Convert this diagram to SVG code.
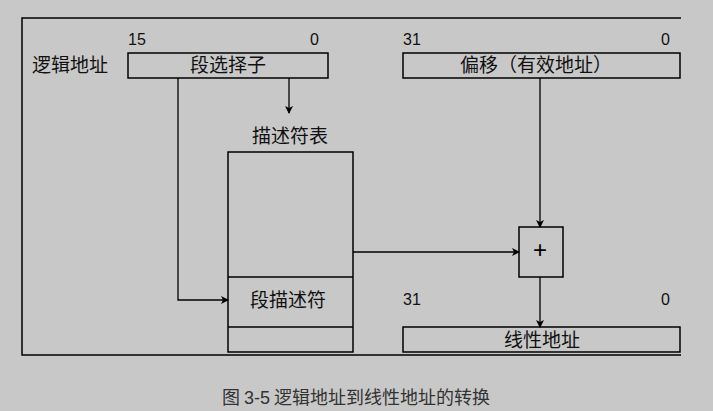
<svg xmlns="http://www.w3.org/2000/svg" width="713" height="411" viewBox="0 0 713 411">
<defs><marker id="a" markerWidth="8" markerHeight="8" refX="7" refY="4" orient="auto" markerUnits="userSpaceOnUse"><path d="M0,0 L8,4 L0,8 L2,4 z" fill="#000"/></marker>
<style>.b{fill:none;stroke:#000;stroke-width:1.5}.t{font-family:"Noto Sans CJK SC",sans-serif;font-size:19px;fill:#111}.n{font-family:"Liberation Sans",sans-serif;font-size:16px;fill:#111}.c{stroke:#000;stroke-width:1.3;fill:none;marker-end:url(#a)}</style></defs>
<rect width="713" height="411" fill="#c8c8c8"/>
<path d="M681,18 H22 V355 H681" class="b"/>
<g id="selector"><rect x="128" y="53" width="200" height="25" class="b"/><text x="228" y="72" text-anchor="middle" class="t">段选择子</text><text x="128" y="45" class="n">15</text><text x="310" y="45" class="n">0</text><text x="32" y="72" class="t">逻辑地址</text></g>
<g id="offset"><rect x="403" y="53" width="277" height="25" class="b"/><text x="536" y="72" text-anchor="middle" class="t">偏移（有效地址）</text><text x="403" y="45" class="n">31</text><text x="661" y="45" class="n">0</text></g>
<g id="table"><text x="290" y="143" text-anchor="middle" class="t">描述符表</text><rect x="228" y="152" width="125" height="200" class="b"/><line x1="228" y1="277" x2="353" y2="277" class="b"/><line x1="228" y1="327" x2="353" y2="327" class="b"/><text x="288" y="307" text-anchor="middle" class="t">段描述符</text></g>
<g id="plus"><rect x="519" y="227" width="44" height="50" class="b"/><text x="540" y="258" text-anchor="middle" style="font-family:'Liberation Sans',sans-serif;font-size:24px">+</text></g>
<g id="linear"><rect x="403" y="327" width="277" height="25" class="b"/><text x="542" y="347" text-anchor="middle" class="t">线性地址</text><text x="403" y="305" class="n">31</text><text x="661" y="305" class="n">0</text></g>
<g id="connectors">
<path d="M289,78 V113" class="c"/>
<path d="M178,78 V300 H228" class="c"/>
<path d="M353,252 H519" class="c"/>
<path d="M540,78 V227" class="c"/>
<path d="M540,277 V327" class="c"/>
</g>
<text x="356" y="404" text-anchor="middle" font-family="Noto Sans CJK SC,sans-serif" font-size="18" fill="#333">图 <tspan font-family="Liberation Sans">3-5</tspan> 逻辑地址到线性地址的转换</text>
</svg>
